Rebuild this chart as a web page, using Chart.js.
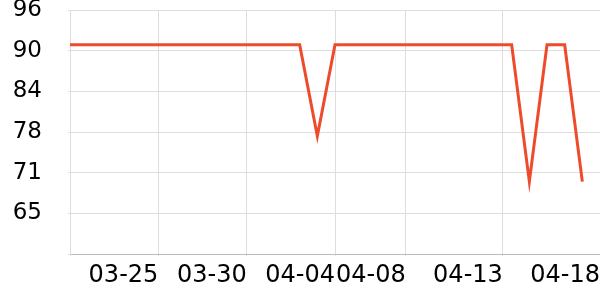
<!DOCTYPE html>
<html>
<head>
<meta charset="utf-8">
<script src="https://cdn.jsdelivr.net/npm/chart.js@4"></script>
<style>
  body { margin: 0; background: #fff; }
  #wrap { width: 600px; height: 300px; }
</style>
</head>
<body>
<div id="wrap"><canvas id="chart"></canvas></div>
<script>
// daily values, 03-20 .. 04-18
var dates = ['03-20','03-21','03-22','03-23','03-24','03-25','03-26','03-27','03-28','03-29',
             '03-30','03-31','04-01','04-02','04-03','04-04','04-05','04-06','04-07','04-08',
             '04-09','04-10','04-11','04-12','04-13','04-14','04-15','04-16','04-17','04-18']
var values = [91,91,91,91,91,91,91,91,91,91,
              91,91,91,91,77,91,91,91,91,91,
              91,91,91,91,91,91,70,91,91,70]

// x axis ticks as drawn in the original (value in days from 03-20)
var xTickValues = [0, 5, 10, 15, 19, 24.5, 30]
var xTickLabels = ['', '03-25', '03-30', '04-04', '04-08', '04-13', '04-18']

var yMin = 58.85, yMax = 96.35, yStep = 6.25

var points = []
for (var i = 0; i < values.length; i++) {
    points.push({x: i, y: values[i]})
}

var chart = new Chart('chart', {
    type: 'line',
    data: {
        datasets: [{
            label: 'value',
            data: points,
            borderColor: '#ee4b2b',
            borderWidth: 3,
            pointRadius: 0,
            tension: 0,
            fill: false
        }]
    },
    options: {
        responsive: true,
        maintainAspectRatio: false,
        animation: false,
        layout: { padding: { left: 14, top: 0, right: 0, bottom: 5 } },
        plugins: {
            legend: { display: false },
            tooltip: { enabled: false }
        },
        scales: {
            x: {
                type: 'linear',
                min: 0,
                max: 30,
                afterBuildTicks: function(scale) {
                    scale.ticks = xTickValues.map(function(v){ return {value: v} })
                },
                afterFit: function(scale) {
                    scale.paddingLeft = 0
                    scale.paddingRight = 0
                },
                grid: { color: '#dddddd', tickLength: 2 },
                border: { color: '#bbbbbb' },
                ticks: {
                    align: 'end',
                    autoSkip: false,
                    maxRotation: 0,
                    padding: 5,
                    color: '#000',
                    font: { family: 'DejaVu Sans', size: 24 },
                    callback: function(v, idx) { return xTickLabels[idx] }
                }
            },
            y: {
                min: yMin,
                max: yMax,
                afterFit: function(scale) {
                    scale.width = 56
                    scale.paddingTop = 10
                    scale.paddingBottom = 0
                },
                grid: { color: '#dddddd', tickLength: 2 },
                border: { color: '#dddddd' },
                ticks: {
                    stepSize: yStep,
                    padding: 26,
                    color: '#000',
                    font: { family: 'DejaVu Sans', size: 23 },
                    callback: function(v, idx) { return idx == 0 ? '' : Math.round(v) }
                }
            }
        }
    }
})
</script>
</body>
</html>
